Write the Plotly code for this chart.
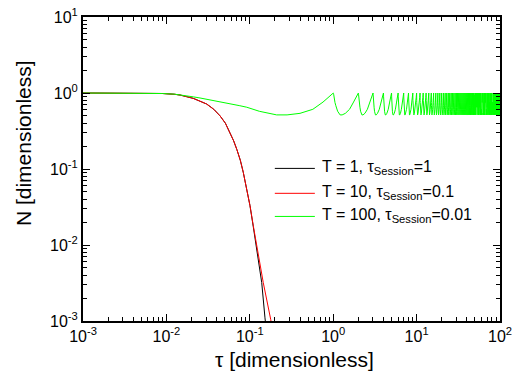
import plotly.graph_objects as go

# ---- data ----
tick_vals = [1e-3, 1e-2, 1e-1, 1e0, 1e1, 1e2]
x_tick_text = ["10<sup>-3</sup>", "10<sup>-2</sup>", "10<sup>-1</sup>", "10<sup>0</sup>", "10<sup>1</sup>", "10<sup>2</sup>"]
y_tick_vals = [1e-3, 1e-2, 1e-1, 1e0, 1e1]
y_tick_text = ["10<sup>-3</sup>", "10<sup>-2</sup>", "10<sup>-1</sup>", "10<sup>0</sup>", "10<sup>1</sup>"]

# T = 1, tau_session = 1 (black)
black_tau = [0.001, 0.003, 0.006, 0.009, 0.0125, 0.0146, 0.021, 0.0304, 0.037, 0.044, 0.051,
             0.058, 0.064, 0.070, 0.077, 0.0836, 0.09, 0.096, 0.1005, 0.110, 0.126, 0.139, 0.152, 0.165]
black_N = [1.0, 1.0, 0.995, 0.985, 0.962, 0.94, 0.85, 0.716, 0.61, 0.50, 0.40,
           0.30, 0.235, 0.18, 0.13, 0.09, 0.062, 0.043, 0.033, 0.0175, 0.0066, 0.0032, 0.0011, 0.0005]

# T = 10, tau_session = 0.1 (red)
red_tau = [0.001, 0.003, 0.006, 0.009, 0.0125, 0.0146, 0.021, 0.0304, 0.037, 0.044, 0.051,
           0.058, 0.064, 0.070, 0.077, 0.0836, 0.09, 0.096, 0.1005, 0.110, 0.126, 0.145, 0.178, 0.19]
red_N = [1.0, 1.0, 0.995, 0.985, 0.962, 0.94, 0.85, 0.716, 0.61, 0.50, 0.40,
         0.30, 0.235, 0.18, 0.13, 0.09, 0.062, 0.043, 0.033, 0.018, 0.0072, 0.0032, 0.00105, 0.0007]

# T = 100, tau_session = 0.01 (green): one session period,
# the curve restarts at every session start tau = 1, 2, ..., 99
green_phase = [0.001, 0.003, 0.006, 0.009, 0.0125, 0.0154, 0.021, 0.0253, 0.0366, 0.05,
               0.076, 0.092, 0.13, 0.21, 0.28, 0.4, 0.57, 0.755, 0.88, 1.0]
green_profile = [1.0, 1.0, 0.995, 0.985, 0.965, 0.94, 0.89, 0.86, 0.80, 0.75,
                 0.68, 0.65, 0.575, 0.515, 0.515, 0.54, 0.61, 0.76, 0.87, 1.0]
session_starts = list(range(1, 100))

green_tau = list(green_phase)
green_N = list(green_profile)
for k in session_starts:
    green_tau += [k + p for p in green_phase]
    green_N += list(green_profile)

legend_names = [
    "T = 1, τ<sub>Session</sub>=1",
    "T = 10, τ<sub>Session</sub>=0.1",
    "T = 100, τ<sub>Session</sub>=0.01",
]
series_colors = ["black", "#ff0000", "#00ff00"]

fig = go.Figure()
for tau, n, name, col in zip([black_tau, red_tau, green_tau], [black_N, red_N, green_N],
                             legend_names, series_colors):
    fig.add_trace(go.Scatter(x=tau, y=n, mode="lines", name=name, showlegend=False,
                             line=dict(color=col, width=1)))

font_family = "Liberation Sans, Arial, sans-serif"
axis_common = dict(
    type="log", showgrid=False, zeroline=False, automargin=False,
    showline=True, linecolor="black", linewidth=2, mirror="allticks",
    ticks="inside", ticklen=7, tickwidth=1, tickcolor="black",
    ticklabeloverflow="allow",
    tickfont=dict(family=font_family, size=16, color="black"),
    minor=dict(ticks="inside", ticklen=4, tickwidth=1, tickcolor="black",
               dtick="D1", showgrid=False),
)

fig.update_xaxes(range=[-3, 2], tickmode="array", tickvals=tick_vals, ticktext=x_tick_text,
                 **axis_common)
fig.update_yaxes(range=[-3, 1], tickmode="array", tickvals=y_tick_vals, ticktext=y_tick_text,
                 **axis_common)

# axis titles
fig.add_annotation(text="N [dimensionless]", xref="paper", yref="paper",
                   x=-0.144, y=0.585, xanchor="center", yanchor="middle",
                   textangle=-90, showarrow=False,
                   font=dict(family=font_family, size=21, color="black"))
fig.add_annotation(text="τ [dimensionless]", xref="paper", yref="paper",
                   x=0.508, y=-0.128, xanchor="center", yanchor="middle",
                   showarrow=False,
                   font=dict(family=font_family, size=21, color="black"))

# legend (drawn manually to match the original sample length and spacing)
legend_rows_y = [0.506, 0.424, 0.348]
for name, col, ly in zip(legend_names, series_colors, legend_rows_y):
    fig.add_shape(type="line", xref="paper", yref="paper",
                  x0=0.460, x1=0.556, y0=ly - 0.004, y1=ly - 0.004,
                  line=dict(color=col, width=1))
    fig.add_annotation(text=name, xref="paper", yref="paper",
                       x=0.568, y=ly, xanchor="left", yanchor="middle",
                       showarrow=False,
                       font=dict(family=font_family, size=16, color="black"))

fig.update_layout(
    width=523, height=392,
    margin=dict(l=83, r=23, t=17, b=71),
    paper_bgcolor="white", plot_bgcolor="white",
    showlegend=False,
)

# remove the default 8 px page margin so the figure fills the window exactly
fig.write_html("out.html",
               config={"displayModeBar": False},
               post_script="document.body.style.margin='0px';document.body.style.overflow='hidden';")
